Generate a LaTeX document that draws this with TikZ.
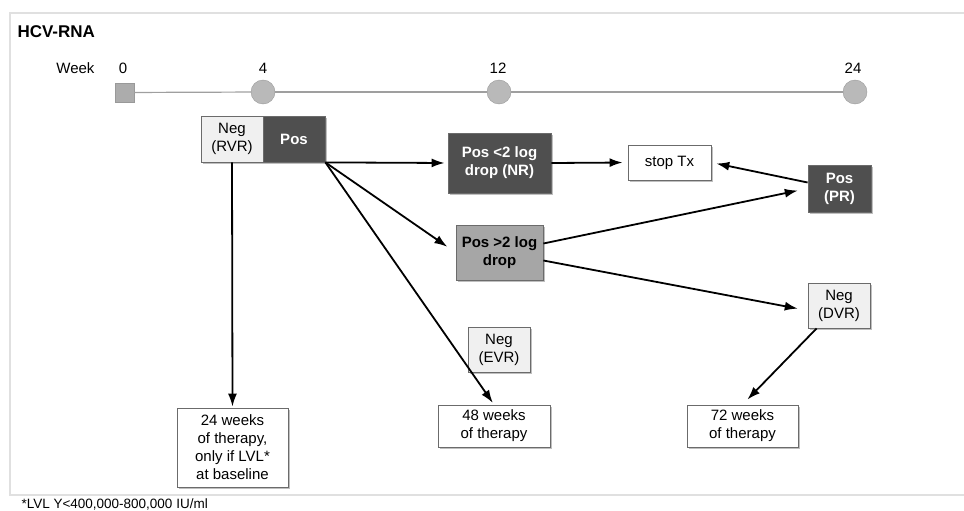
\documentclass[tikz,border=0pt]{standalone}
\usepackage{fontspec}
\setmainfont{Liberation Sans}
\usetikzlibrary{arrows.meta,shadows}

\definecolor{darkfill}{gray}{0.31}
\definecolor{midfill}{gray}{0.65}
\definecolor{lightfill}{gray}{0.94}
\definecolor{boxline}{gray}{0.42}
\definecolor{framegray}{gray}{0.88}

\begin{document}
\begin{tikzpicture}[x=1pt,y=-1pt,
  box/.style={draw=boxline, line width=0.8pt, align=center, inner sep=0pt,
    font=\fontsize{15}{18}\selectfont,
    drop shadow={shadow xshift=2pt, shadow yshift=-2pt, opacity=0.25, fill=black}},
  posbox/.style={box, fill=darkfill, text=white, font=\fontsize{15}{18}\selectfont\bfseries},
  midbox/.style={box, fill=midfill, font=\fontsize{15}{18}\selectfont\bfseries},
  negbox/.style={box, fill=lightfill},
  outbox/.style={box, fill=white},
  dot/.style={circle, draw=gray!80, fill=gray!55, minimum size=24pt, inner sep=0pt},
  sq/.style={rectangle, draw=gray!80, fill=gray!65, minimum size=19pt, inner sep=0pt},
  tline/.style={draw=gray!75, line width=1.2pt},
  arr/.style={-{Latex[length=13pt,width=9pt]}, line width=1.8pt},
  lbl/.style={font=\fontsize{15}{18}\selectfont}]

\useasboundingbox (0,0) rectangle (964,511);

% Frame
\draw[framegray, line width=1.5pt] (964,13) -- (10,13) -- (10,495) -- (964,495);

% Title
\node[font=\fontsize{17}{20}\selectfont\bfseries, anchor=west] (title) at (14,32) {HCV-RNA};

% Time line
\node[lbl, anchor=east] (week) at (98,68) {Week};
\node[sq] (t0) at (124.5,92.5) {};
\node[dot] (t4) at (263,92) {};
\node[dot] (t12) at (499,92) {};
\node[dot] (t24) at (855,92) {};
\foreach \a/\b in {t0/t4,t4/t12,t12/t24}
  \draw[tline] (\a) -- (\b);
\node[lbl] (l0) at (123,68) {0};
\node[lbl] (l4) at (263,68) {4};
\node[lbl] (l12) at (498,68) {12};
\node[lbl] (l24) at (853,68) {24};

% Week 4
\node[negbox, minimum width=62pt, minimum height=46pt] (rvr) at (232,139) {Neg\\(RVR)};
\node[posbox, minimum width=62pt, minimum height=46pt] (pos) at (294,139) {Pos};

% Week 12
\node[posbox, minimum width=103pt, minimum height=60pt] (nr) at (499.5,163) {Pos <2 log\\drop (NR)};
\node[midbox, minimum width=87pt, minimum height=55pt] (drop) at (499.5,252.5) {Pos >2 log\\drop};
\node[negbox, minimum width=62pt, minimum height=45pt] (evr) at (499,349.5) {Neg\\(EVR)};
\node[outbox, minimum width=83pt, minimum height=35pt] (stop) at (669.5,162.5) {stop Tx};

% Week 24
\node[posbox, minimum width=63pt, minimum height=47pt] (pr) at (839.5,188.5) {Pos\\(PR)};
\node[negbox, minimum width=62pt, minimum height=45pt] (dvr) at (839,305.5) {Neg\\(DVR)};

% Therapy duration
\node[outbox, minimum width=111pt, minimum height=79pt] (w24) at (232.5,447.5) {24 weeks\\of therapy,\\only if LVL*\\at baseline};
\node[outbox, minimum width=112pt, minimum height=42pt] (w48) at (494,426) {48 weeks\\of therapy};
\node[outbox, minimum width=111pt, minimum height=42pt] (w72) at (742.5,426) {72 weeks\\of therapy};

% Arrows
\draw[arr, shorten >=1pt] (rvr.south) -- (w24.north);
\draw[arr, shorten >=3pt] (pos.south east) -- (nr.west);
\draw[arr, shorten >=10pt] (pos.south east) -- (drop.west);
\draw[arr, shorten >=2pt] (pos.south east) -- (w48.north);
\draw[arr, shorten >=5pt] (nr.east) -- (stop.west);
\draw[arr, shorten >=5pt] ([yshift=6pt]pr.west) -- (stop.east);
\draw[arr, shorten >=10pt] ([yshift=9pt]drop.east) -- (pr.west);
\draw[arr, shorten >=10pt] ([yshift=-8pt]drop.east) -- ([yshift=-5pt]dvr.west);
\draw[arr, shorten >=7pt] ([xshift=9pt]dvr.south west) -- (w72.north);

% Footnote
\node[font=\fontsize{13.5}{16}\selectfont, anchor=west] (note) at (18,504) {*LVL Y<400,000-800,000 IU/ml};

\end{tikzpicture}
\end{document}
